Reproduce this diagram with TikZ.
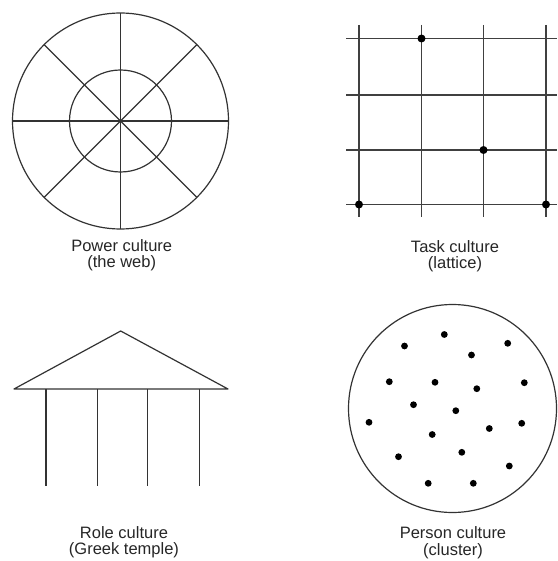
\documentclass[tikz,border=0pt]{standalone}
\usepackage{fontspec}
\setmainfont{Liberation Sans}
\usetikzlibrary{calc}
\begin{document}
\begin{tikzpicture}[x=1pt,y=-1pt,
  ln/.style={line width=1.2pt,draw=black!80},
  grid/.style={line width=1.6pt,draw=black!75},
  lbl/.style={anchor=base,inner sep=0pt,font=\fontsize{16.5}{16}\selectfont,text=black!85}]
\useasboundingbox (0,0) rectangle (557,561);
% Power culture (web)
\coordinate (wc) at (120.5,121);
\draw[ln] (wc) circle[radius=108];
\draw[ln] (wc) circle[radius=51];
\foreach \a in {0,45,90,135}{
  \draw[ln] ($(wc)+(\a:108)$) -- ($(wc)+(\a+180:108)$);
}
\node[lbl] (p1) at (121.7,251.5) {Power culture};
\node[lbl] (p2) at (121.7,267.5) {(the web)};
% Task culture (lattice)
\foreach \x in {359,421.5,483.5,546}{
  \draw[grid] (\x,25) -- (\x,217);
}
\foreach \y in {38.5,95,150,204.5}{
  \draw[grid] (346,\y) -- (557,\y);
}
\foreach \p in {(421.5,38.5),(483.5,150),(359,204.5),(546,204.5)}{
  \fill[black] \p circle[radius=4];
}
\node[lbl] (t1) at (455,252.5) {Task culture};
\node[lbl] (t2) at (455,268.5) {(lattice)};
% Role culture (temple)
\draw[ln,line join=round] (120.7,331) -- (228,389) -- (14,389) -- cycle;
\foreach \x in {46,97.7,147.3,199.3}{
  \draw[ln] (\x,389) -- (\x,486);
}
\node[lbl] (r1) at (124,538.5) {Role culture};
\node[lbl] (r2) at (124,554.5) {(Greek temple)};
% Person culture (cluster)
\draw[ln] (452.5,408.5) circle[radius=104];
\foreach \p in {(444.3,334.5),(404.5,346),(507.7,343.3),(471.5,355),
  (389.3,381.7),(435,382.3),(524.3,382.7),(476.8,388.7),(413.5,404.7),
  (455.8,410.7),(369,422.3),(489.3,428.5),(521.7,423.3),(432.2,434.5),
  (461.8,452.3),(398.5,456.7),(509.3,466),(428.2,483.3),(473.3,483.3)}{
  \fill[black] \p circle[radius=3.4];
}
\node[lbl] (c1) at (453,538.5) {Person culture};
\node[lbl] (c2) at (453,555.5) {(cluster)};
\end{tikzpicture}
\end{document}
